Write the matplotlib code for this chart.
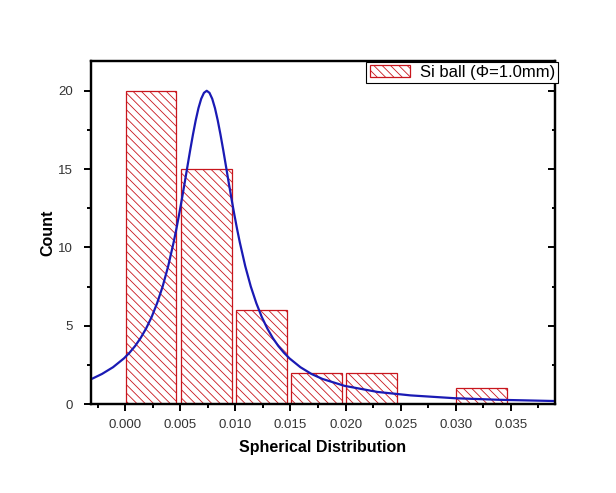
import numpy as np
import matplotlib
matplotlib.use("Agg")
import matplotlib.pyplot as plt
from matplotlib.ticker import MultipleLocator, FormatStrFormatter

plt.rcParams['font.family'] = ['Liberation Sans', 'DejaVu Sans']
plt.rcParams['hatch.linewidth'] = 0.6

# histogram bins (left edge) and counts
bin_left = [0.000, 0.005, 0.010, 0.015, 0.020, 0.025, 0.030]
counts = [20, 15, 6, 2, 2, 0, 1]

# fitted curve
fit_x = [-0.0031, -0.0021, -0.0011, -0.0001, 0.0004, 0.0009, 0.0014, 0.0019,
         0.0024, 0.0029, 0.0034, 0.0039,
         0.0044, 0.00465, 0.0049, 0.00515, 0.0054, 0.00565, 0.0059, 0.00615,
         0.0064, 0.00665, 0.0069, 0.00715, 0.0074,
         0.00765, 0.0079, 0.00815, 0.0084, 0.00865, 0.0089, 0.00915, 0.0094,
         0.00965, 0.0099, 0.01015, 0.0104, 0.0109, 0.0114, 0.0119, 0.0124,
         0.0129, 0.0134, 0.0139, 0.0144, 0.0149, 0.0159, 0.0169, 0.0179,
         0.0199, 0.0229, 0.0259, 0.0299, 0.0339, 0.0390]
fit_y = [1.58, 1.92, 2.35, 2.92, 3.28, 3.70, 4.21, 4.82,
         5.55, 6.44, 7.50, 8.79,
         10.33, 11.19, 12.12, 13.10, 14.12, 15.17, 16.21, 17.20,
         18.11, 18.89, 19.49, 19.87, 20.0,
         19.87, 19.49, 18.89, 18.11, 17.20, 16.21, 15.17, 14.12,
         13.10, 12.12, 11.19, 10.33, 8.79, 7.50, 6.44, 5.55,
         4.82, 4.21, 3.70, 3.28, 2.92, 2.35, 1.92, 1.60,
         1.16, 0.77, 0.55, 0.37, 0.27, 0.19]

fig = plt.figure(figsize=(6.16, 4.93), dpi=100)
ax = fig.add_axes([0.1477, 0.1805, 0.7533, 0.6957])

red = '#c8161d'
ax.bar(np.array(bin_left) + 0.00005, counts, width=0.0046, align='edge',
       facecolor='white', edgecolor=red, linewidth=0.9, hatch='\\\\\\\\',
       label='Si ball (\u03a6=1.0mm)', zorder=2)
ax.plot(fit_x, fit_y, color='#1a1ab4', lw=1.6, zorder=3, solid_joinstyle='round')

ax.set_xlim(-0.0031, 0.0390)
ax.set_ylim(0, 21.9)
ax.xaxis.set_major_locator(MultipleLocator(0.005))
ax.xaxis.set_minor_locator(MultipleLocator(0.0025))
ax.xaxis.set_major_formatter(FormatStrFormatter('%.3f'))
ax.yaxis.set_major_locator(MultipleLocator(5))
ax.yaxis.set_minor_locator(MultipleLocator(2.5))

for s in ax.spines.values():
    s.set_linewidth(1.6)
ax.tick_params(which='major', direction='out', length=5, width=1.4,
               labelsize=9.5, labelcolor='#333333')
ax.tick_params(which='minor', direction='out', length=3, width=1.4)
ax.tick_params(axis='x', pad=6)
ax.tick_params(axis='y', pad=8)

ax2 = ax.twinx()
ax2.set_ylim(ax.get_ylim())
ax2.yaxis.set_major_locator(MultipleLocator(5))
ax2.yaxis.set_minor_locator(MultipleLocator(2.5))
ax2.tick_params(which='major', direction='in', length=5, width=1.4, labelright=False)
ax2.tick_params(which='minor', direction='in', length=2, width=1.4)
for s in ax2.spines.values():
    s.set_linewidth(1.6)

ax.set_xlabel('Spherical Distribution', fontsize=11.5, fontweight='bold', labelpad=6)
ax.set_ylabel('Count', fontsize=11.5, fontweight='bold', labelpad=2)

leg = ax2.legend(*ax.get_legend_handles_labels(), loc='upper right',
                 bbox_to_anchor=(1.007, 0.998), fontsize=12, fancybox=False,
                 framealpha=1, edgecolor='black', borderpad=0.2,
                 handlelength=2.4, handleheight=0.75, handletextpad=0.6,
                 borderaxespad=0)
leg.get_frame().set_linewidth(0.8)

fig.savefig('out.png', dpi=100)
